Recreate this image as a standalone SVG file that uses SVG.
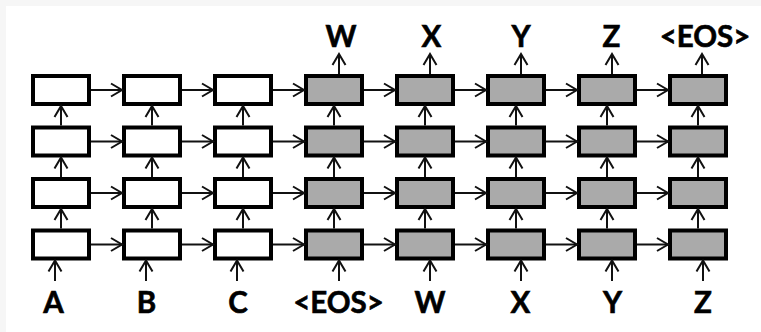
<svg xmlns="http://www.w3.org/2000/svg" width="761" height="332" viewBox="0 0 761 332">
  <defs>
    <marker id="chev" markerUnits="userSpaceOnUse" markerWidth="16" markerHeight="18" viewBox="-13 -9 16 18" refX="0" refY="0" orient="auto">
      <path d="M-11,-6.5 L0,0 L-11,6.5" fill="none" stroke="#111" stroke-width="2" stroke-linejoin="miter"/>
    </marker>
  </defs>
  <style>
    .enc { fill: #ffffff; stroke: #000; stroke-width: 4; }
    .dec { fill: #aaaaaa; stroke: #000; stroke-width: 4; }
    .arr { stroke: #111; stroke-width: 2; fill: none; marker-end: url(#chev); }
    .lbl { font-family: Lato, "Liberation Sans", sans-serif; font-weight: 700; font-size: 29.5px; fill: #000; text-anchor: middle; stroke: #000; stroke-width: 0.6px; }
  </style>

  <!-- page -->
  <rect x="0" y="0" width="761" height="332" fill="#f6f6f6"/>
  <rect x="6" y="6" width="755" height="326" fill="#ffffff"/>

  <!-- encoder cells: columns 0-2, rows 0-3 -->
  <g id="enc-c0">
    <rect id="enc-0-0" class="enc" x="33" y="76" width="56" height="28"/>
    <rect id="enc-0-1" class="enc" x="33" y="127.5" width="56" height="28"/>
    <rect id="enc-0-2" class="enc" x="33" y="179" width="56" height="28"/>
    <rect id="enc-0-3" class="enc" x="33" y="230.5" width="56" height="28"/>
  </g>
  <g id="enc-c1">
    <rect id="enc-1-0" class="enc" x="124" y="76" width="56" height="28"/>
    <rect id="enc-1-1" class="enc" x="124" y="127.5" width="56" height="28"/>
    <rect id="enc-1-2" class="enc" x="124" y="179" width="56" height="28"/>
    <rect id="enc-1-3" class="enc" x="124" y="230.5" width="56" height="28"/>
  </g>
  <g id="enc-c2">
    <rect id="enc-2-0" class="enc" x="215" y="76" width="56" height="28"/>
    <rect id="enc-2-1" class="enc" x="215" y="127.5" width="56" height="28"/>
    <rect id="enc-2-2" class="enc" x="215" y="179" width="56" height="28"/>
    <rect id="enc-2-3" class="enc" x="215" y="230.5" width="56" height="28"/>
  </g>

  <!-- decoder cells: columns 3-7 -->
  <g id="dec-c3">
    <rect id="dec-3-0" class="dec" x="306" y="76" width="56" height="28"/>
    <rect id="dec-3-1" class="dec" x="306" y="127.5" width="56" height="28"/>
    <rect id="dec-3-2" class="dec" x="306" y="179" width="56" height="28"/>
    <rect id="dec-3-3" class="dec" x="306" y="230.5" width="56" height="28"/>
  </g>
  <g id="dec-c4">
    <rect id="dec-4-0" class="dec" x="397" y="76" width="56" height="28"/>
    <rect id="dec-4-1" class="dec" x="397" y="127.5" width="56" height="28"/>
    <rect id="dec-4-2" class="dec" x="397" y="179" width="56" height="28"/>
    <rect id="dec-4-3" class="dec" x="397" y="230.5" width="56" height="28"/>
  </g>
  <g id="dec-c5">
    <rect id="dec-5-0" class="dec" x="488" y="76" width="56" height="28"/>
    <rect id="dec-5-1" class="dec" x="488" y="127.5" width="56" height="28"/>
    <rect id="dec-5-2" class="dec" x="488" y="179" width="56" height="28"/>
    <rect id="dec-5-3" class="dec" x="488" y="230.5" width="56" height="28"/>
  </g>
  <g id="dec-c6">
    <rect id="dec-6-0" class="dec" x="579" y="76" width="56" height="28"/>
    <rect id="dec-6-1" class="dec" x="579" y="127.5" width="56" height="28"/>
    <rect id="dec-6-2" class="dec" x="579" y="179" width="56" height="28"/>
    <rect id="dec-6-3" class="dec" x="579" y="230.5" width="56" height="28"/>
  </g>
  <g id="dec-c7">
    <rect id="dec-7-0" class="dec" x="670" y="76" width="56" height="28"/>
    <rect id="dec-7-1" class="dec" x="670" y="127.5" width="56" height="28"/>
    <rect id="dec-7-2" class="dec" x="670" y="179" width="56" height="28"/>
    <rect id="dec-7-3" class="dec" x="670" y="230.5" width="56" height="28"/>
  </g>

  <!-- connectors -->
  <g id="connectors">
    <!-- recurrent (left to right) links, row 0 -->
    <line class="arr" x1="91" y1="90" x2="122" y2="90"/>
    <line class="arr" x1="182" y1="90" x2="213" y2="90"/>
    <line class="arr" x1="273" y1="90" x2="304" y2="90"/>
    <line class="arr" x1="364" y1="90" x2="395" y2="90"/>
    <line class="arr" x1="455" y1="90" x2="486" y2="90"/>
    <line class="arr" x1="546" y1="90" x2="577" y2="90"/>
    <line class="arr" x1="637" y1="90" x2="668" y2="90"/>
    <!-- row 1 -->
    <line class="arr" x1="91" y1="141.5" x2="122" y2="141.5"/>
    <line class="arr" x1="182" y1="141.5" x2="213" y2="141.5"/>
    <line class="arr" x1="273" y1="141.5" x2="304" y2="141.5"/>
    <line class="arr" x1="364" y1="141.5" x2="395" y2="141.5"/>
    <line class="arr" x1="455" y1="141.5" x2="486" y2="141.5"/>
    <line class="arr" x1="546" y1="141.5" x2="577" y2="141.5"/>
    <line class="arr" x1="637" y1="141.5" x2="668" y2="141.5"/>
    <!-- row 2 -->
    <line class="arr" x1="91" y1="193" x2="122" y2="193"/>
    <line class="arr" x1="182" y1="193" x2="213" y2="193"/>
    <line class="arr" x1="273" y1="193" x2="304" y2="193"/>
    <line class="arr" x1="364" y1="193" x2="395" y2="193"/>
    <line class="arr" x1="455" y1="193" x2="486" y2="193"/>
    <line class="arr" x1="546" y1="193" x2="577" y2="193"/>
    <line class="arr" x1="637" y1="193" x2="668" y2="193"/>
    <!-- row 3 -->
    <line class="arr" x1="91" y1="244.5" x2="122" y2="244.5"/>
    <line class="arr" x1="182" y1="244.5" x2="213" y2="244.5"/>
    <line class="arr" x1="273" y1="244.5" x2="304" y2="244.5"/>
    <line class="arr" x1="364" y1="244.5" x2="395" y2="244.5"/>
    <line class="arr" x1="455" y1="244.5" x2="486" y2="244.5"/>
    <line class="arr" x1="546" y1="244.5" x2="577" y2="244.5"/>
    <line class="arr" x1="637" y1="244.5" x2="668" y2="244.5"/>

    <!-- layer-to-layer links -->
    <line class="arr" x1="61" y1="125.5" x2="61" y2="106"/>
    <line class="arr" x1="61" y1="177" x2="61" y2="157.5"/>
    <line class="arr" x1="61" y1="228.5" x2="61" y2="209"/>
    <line class="arr" x1="152" y1="125.5" x2="152" y2="106"/>
    <line class="arr" x1="152" y1="177" x2="152" y2="157.5"/>
    <line class="arr" x1="152" y1="228.5" x2="152" y2="209"/>
    <line class="arr" x1="243" y1="125.5" x2="243" y2="106"/>
    <line class="arr" x1="243" y1="177" x2="243" y2="157.5"/>
    <line class="arr" x1="243" y1="228.5" x2="243" y2="209"/>
    <line class="arr" x1="334" y1="125.5" x2="334" y2="106"/>
    <line class="arr" x1="334" y1="177" x2="334" y2="157.5"/>
    <line class="arr" x1="334" y1="228.5" x2="334" y2="209"/>
    <line class="arr" x1="425" y1="125.5" x2="425" y2="106"/>
    <line class="arr" x1="425" y1="177" x2="425" y2="157.5"/>
    <line class="arr" x1="425" y1="228.5" x2="425" y2="209"/>
    <line class="arr" x1="516" y1="125.5" x2="516" y2="106"/>
    <line class="arr" x1="516" y1="177" x2="516" y2="157.5"/>
    <line class="arr" x1="516" y1="228.5" x2="516" y2="209"/>
    <line class="arr" x1="607" y1="125.5" x2="607" y2="106"/>
    <line class="arr" x1="607" y1="177" x2="607" y2="157.5"/>
    <line class="arr" x1="607" y1="228.5" x2="607" y2="209"/>
    <line class="arr" x1="698" y1="125.5" x2="698" y2="106"/>
    <line class="arr" x1="698" y1="177" x2="698" y2="157.5"/>
    <line class="arr" x1="698" y1="228.5" x2="698" y2="209"/>

    <!-- inputs -->
    <line class="arr" x1="55" y1="281" x2="55" y2="260.5"/>
    <line class="arr" x1="146" y1="281" x2="146" y2="260.5"/>
    <line class="arr" x1="237" y1="281" x2="237" y2="260.5"/>
    <line class="arr" x1="339" y1="281" x2="339" y2="260.5"/>
    <line class="arr" x1="430" y1="281" x2="430" y2="260.5"/>
    <line class="arr" x1="521" y1="281" x2="521" y2="260.5"/>
    <line class="arr" x1="612" y1="281" x2="612" y2="260.5"/>
    <line class="arr" x1="703" y1="281" x2="703" y2="260.5"/>

    <!-- outputs -->
    <line class="arr" x1="339" y1="74" x2="339" y2="54"/>
    <line class="arr" x1="430" y1="74" x2="430" y2="54"/>
    <line class="arr" x1="521" y1="74" x2="521" y2="54"/>
    <line class="arr" x1="612" y1="74" x2="612" y2="54"/>
    <line class="arr" x1="702" y1="74" x2="702" y2="54"/>
  </g>

  <!-- output tokens -->
  <g id="out-labels">
    <text class="lbl" x="341" y="47">W</text>
    <text class="lbl" x="431.5" y="47">X</text>
    <text class="lbl" x="521" y="47">Y</text>
    <text class="lbl" x="611.5" y="47">Z</text>
    <text class="lbl" x="705" y="47">&lt;EOS&gt;</text>
  </g>

  <!-- input tokens -->
  <g id="in-labels">
    <text class="lbl" x="53.5" y="313">A</text>
    <text class="lbl" x="146.5" y="313">B</text>
    <text class="lbl" x="238" y="313">C</text>
    <text class="lbl" x="338.5" y="313">&lt;EOS&gt;</text>
    <text class="lbl" x="430" y="313">W</text>
    <text class="lbl" x="520.5" y="313">X</text>
    <text class="lbl" x="612.5" y="313">Y</text>
    <text class="lbl" x="703" y="313">Z</text>
  </g>
</svg>
